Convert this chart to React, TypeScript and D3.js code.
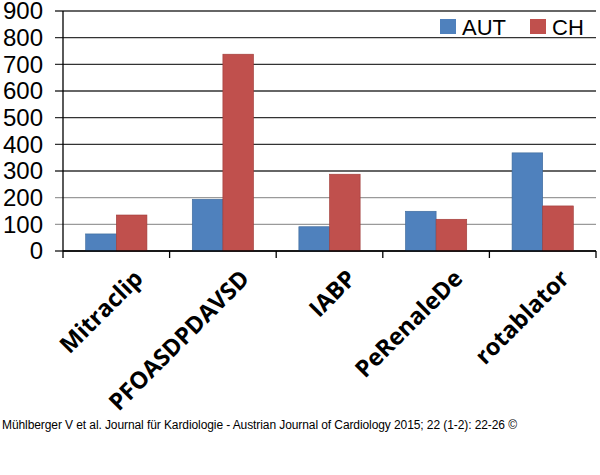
import React from "react";
import * as d3 from "d3";

const categories = ["Mitraclip", "PFOASDPDAVSD", "IABP", "PeRenaleDe", "rotablator"];
const seriesNames = ["AUT", "CH"];
const autValues = [64, 194, 91, 149, 368];
const chValues = [135, 738, 288, 119, 169];
const yTicks = [0, 100, 200, 300, 400, 500, 600, 700, 800, 900];
const footerText = "Mühlberger V et al. Journal für Kardiologie - Austrian Journal of Cardiology 2015; 22 (1-2): 22-26 ©";

const W = 600;
const H = 475;
const left = 63;
const right = 596;
const top = 11;
const bottom = 251;
const colors = ["#4F81BD", "#C0504D"];
const strokes = ["#3A6799", "#9E3B38"];

export default function App() {
  const x = d3.scaleBand<string>().domain(categories).range([left, right]).paddingInner(0).paddingOuter(0);
  const inner = d3.scaleBand<string>().domain(seriesNames).range([0, x.bandwidth()]).paddingInner(0).paddingOuter(0.74);
  const y = d3.scaleLinear().domain([0, 900]).range([bottom, top]);
  const series = [autValues, chValues];
  const labelFont = "'Open Sans', 'DejaVu Sans', sans-serif";

  return (
    <svg width={W} height={H} style={{ position: "absolute", left: 0, top: 0, background: "#fff" }}>
      {yTicks.map((t) => (
        <g key={t}>
          <line x1={55} x2={right} y1={y(t)} y2={y(t)} stroke={t === 100 || t === 200 ? "#9a9a9a" : "#333"} strokeWidth={1.3} />
          <text x={43} y={y(t)} dy="0.35em" textAnchor="end" fontFamily="'Liberation Sans', Arial, sans-serif" fontSize={24} fill="#000">
            {t}
          </text>
        </g>
      ))}
      {categories.map((c, i) => (
        <g key={c}>
          {series.map((vals, s) => (
            <rect
              key={s}
              x={(x(c) ?? 0) + (inner(seriesNames[s]) ?? 0)}
              y={y(vals[i])}
              width={inner.bandwidth()}
              height={y(0) - y(vals[i])}
              fill={colors[s]}
              stroke={strokes[s]}
              strokeWidth={0.6}
            />
          ))}
        </g>
      ))}
      <line x1={left} x2={left} y1={top} y2={bottom + 7} stroke="#000" strokeWidth={1.3} />
      <line x1={left} x2={right} y1={bottom} y2={bottom} stroke="#000" strokeWidth={1.3} />
      {categories.map((c) => (
        <line key={c} x1={(x(c) ?? 0) + x.bandwidth()} x2={(x(c) ?? 0) + x.bandwidth()} y1={bottom} y2={bottom + 7} stroke="#000" strokeWidth={1.3} />
      ))}
      {categories.map((c) => {
        const cx = (x(c) ?? 0) + x.bandwidth() / 2 + 16;
        const cy = bottom + 17;
        return (
          <text
            key={c}
            transform={`translate(${cx},${cy}) rotate(-45)`}
            textAnchor="end"
            dy="0.72em"
            fontFamily={labelFont}
            fontWeight={700}
            fontSize={23.5}
            fill="#000"
          >
            {c}
          </text>
        );
      })}
      {seriesNames.map((n, s) => {
        const lx = [440, 530][s];
        return (
          <g key={n}>
            <rect x={lx} y={19} width={16} height={15} fill={colors[s]} />
            <text x={lx + 22} y={27} dy="0.35em" fontFamily="'Liberation Sans', Arial, sans-serif" fontSize={22} fill="#000">
              {n}
            </text>
          </g>
        );
      })}
      <text x={2} y={429} fontFamily="'Liberation Sans', Arial, sans-serif" fontSize={12} textLength={515} lengthAdjust="spacing" fill="#000">
        {footerText}
      </text>
    </svg>
  );
}
